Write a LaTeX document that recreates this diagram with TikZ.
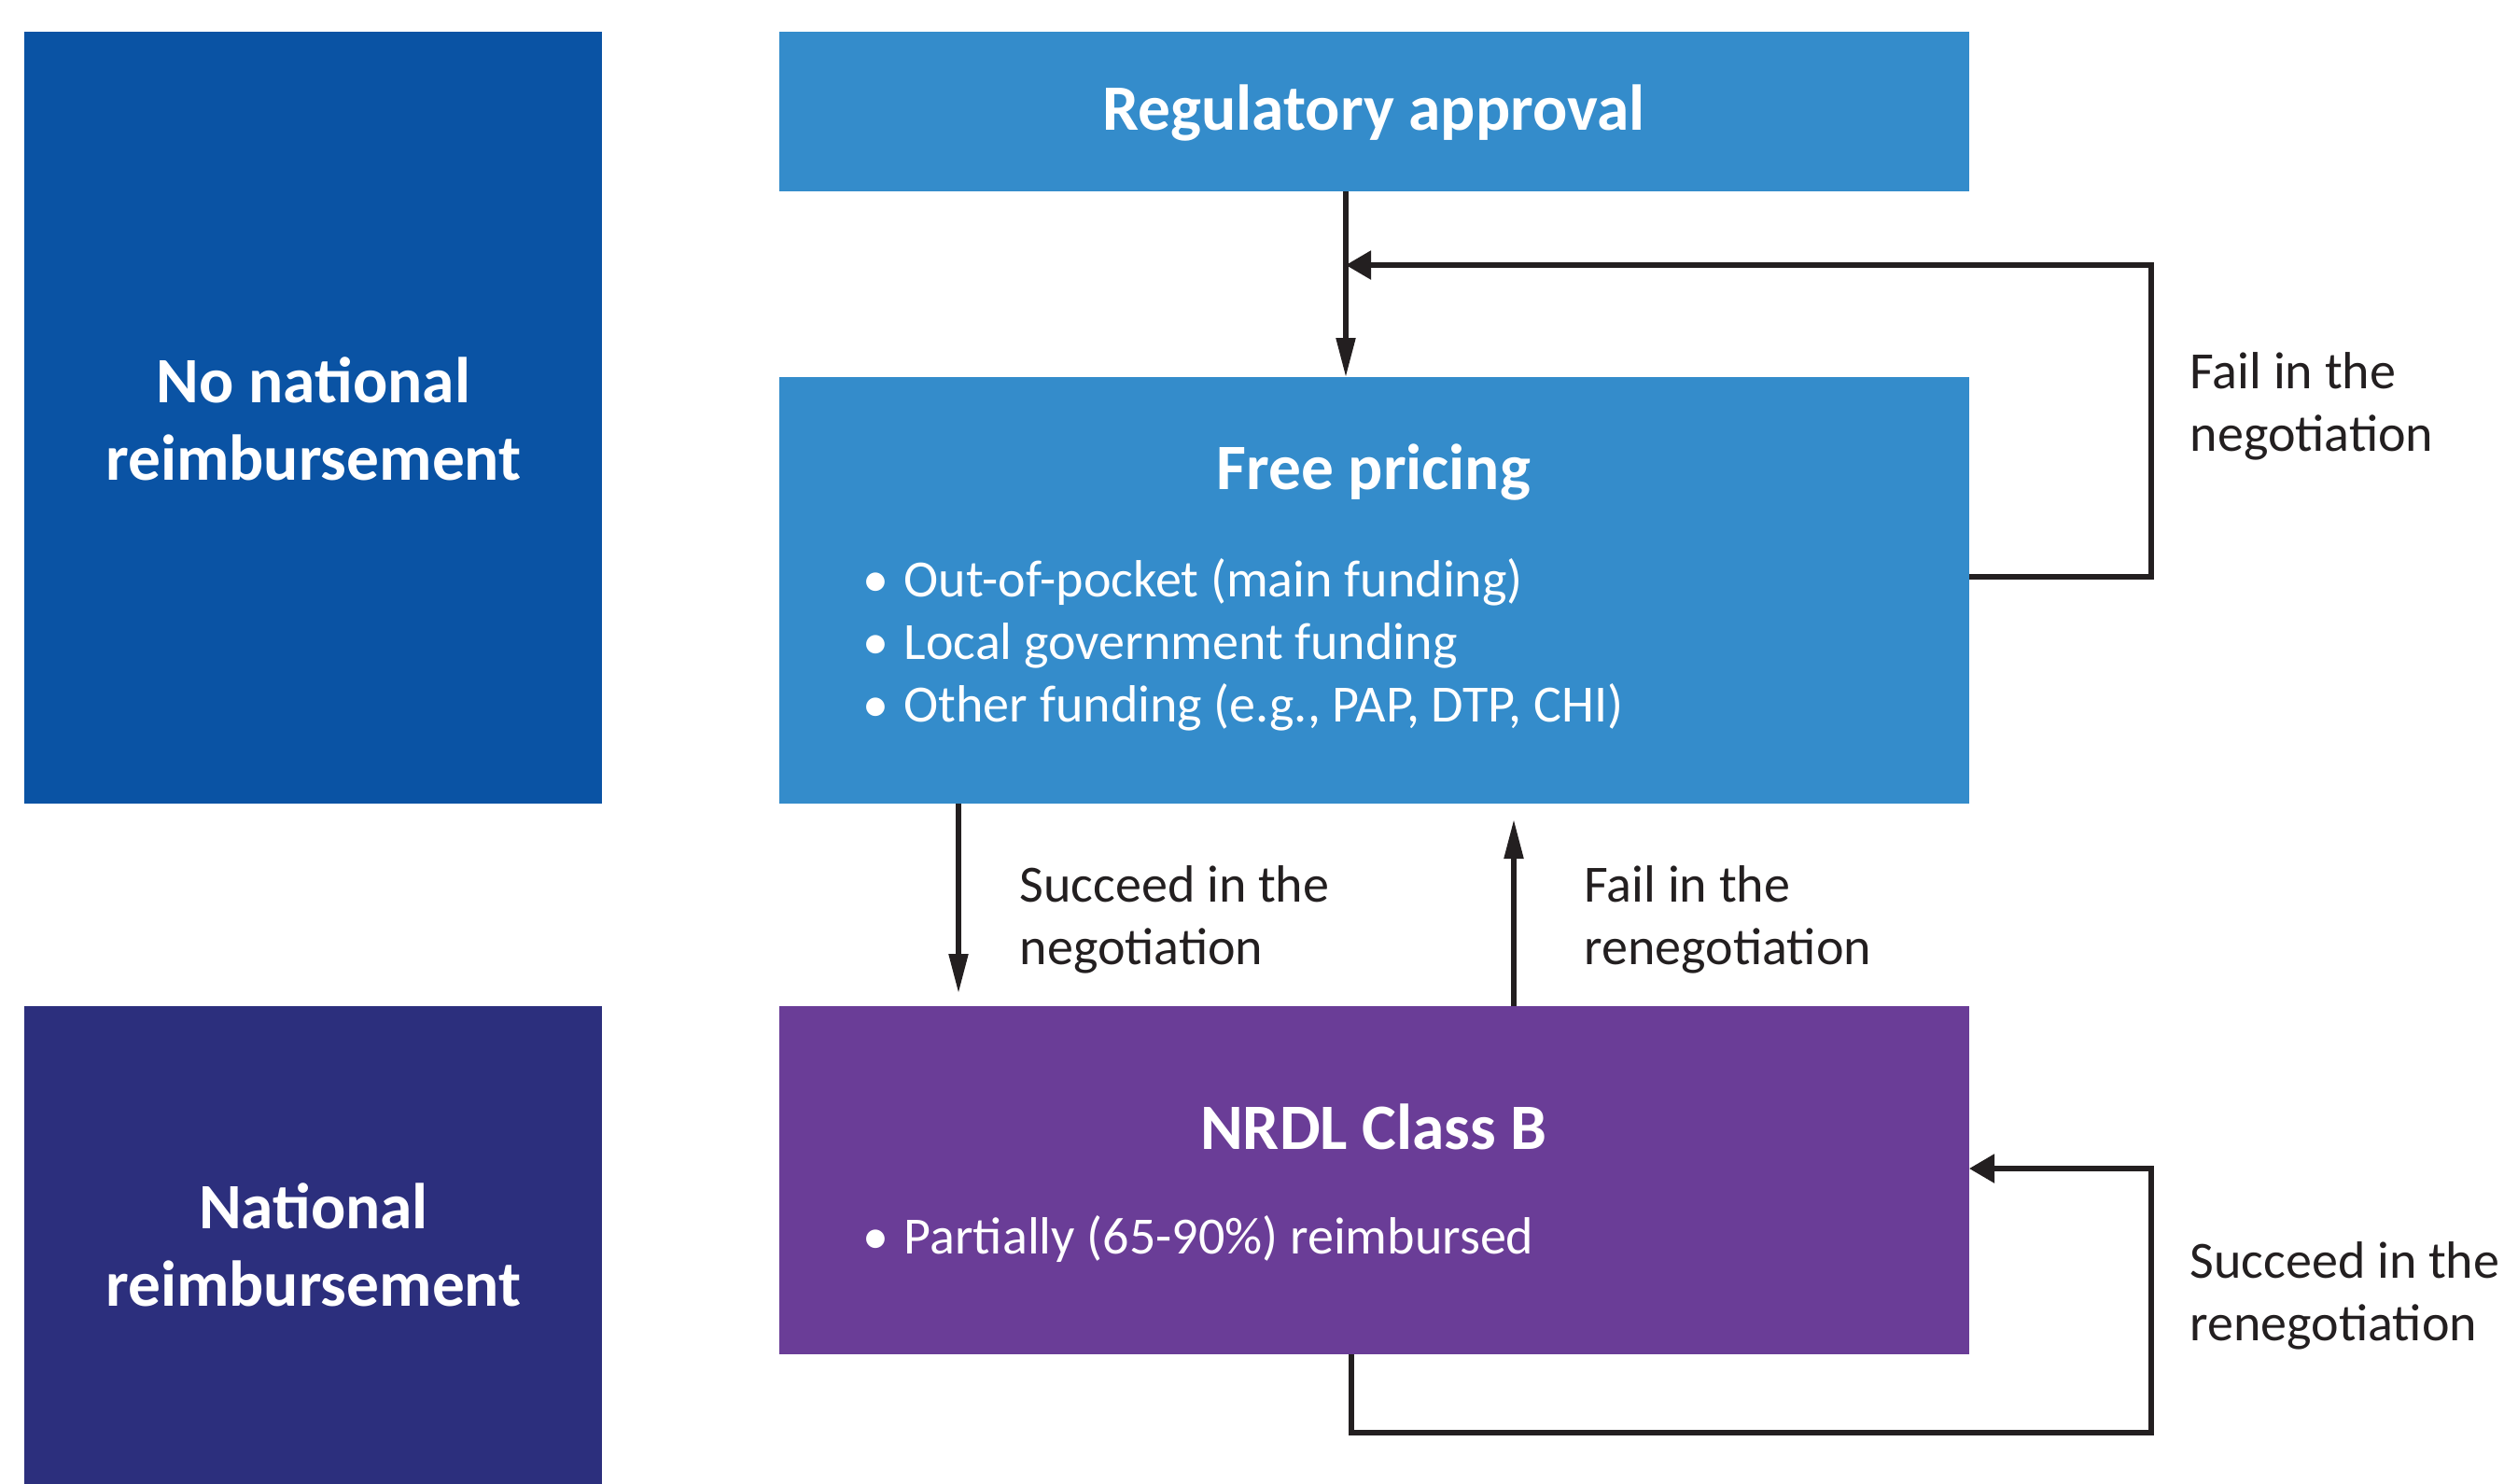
\documentclass[tikz,border=0pt]{standalone}
\usepackage{fontspec}
\setmainfont{Carlito}
\usetikzlibrary{arrows.meta}
\definecolor{deepblue}{HTML}{0A53A4}
\definecolor{midblue}{HTML}{348CCB}
\definecolor{plum}{HTML}{6A3D97}
\definecolor{navy}{HTML}{2C2F7D}
\definecolor{ink}{HTML}{231F20}
\tikzset{
  panel/.style={draw=none, inner sep=0pt, outer sep=0pt},
  title/.style={text=white, font=\fontsize{19.75}{23.6}\selectfont\bfseries, align=center},
  body/.style={text=white, font=\fontsize{15.95}{19.1}\selectfont, align=left},
  label/.style={text=ink, font=\fontsize{15.95}{19.1}\selectfont, align=left, anchor=west, inner sep=0pt},
  flow/.style={draw=ink, line width=1.5pt, -{Triangle[length=0.42cm,width=0.2cm]}},
  loop/.style={draw=ink, line width=1.5pt, -{Triangle[length=0.27cm,width=0.3cm]}},
}
\newcommand{\bul}[1]{\makebox[0.44cm][l]{•}#1}
\begin{document}
\begin{tikzpicture}
\useasboundingbox (0,0) rectangle (26.83,-15.90);

% column of category panels
\node[panel, fill=deepblue, minimum width=6.19cm, minimum height=8.27cm] (nonat) at (3.355,-4.475) {};
\node[panel, fill=navy, minimum width=6.19cm, minimum height=5.12cm] (nat) at (3.355,-13.34) {};
\node[title] (nonattxt) at (3.36,-4.49) {No national\\reimbursement};
\node[title] (nattxt) at (3.36,-13.34) {National\\reimbursement};

% process boxes
\node[panel, fill=midblue, minimum width=12.75cm, minimum height=1.71cm] (reg) at (14.725,-1.195) {};
\node[panel, fill=midblue, minimum width=12.75cm, minimum height=4.57cm] (free) at (14.725,-6.325) {};
\node[panel, fill=plum, minimum width=12.75cm, minimum height=3.73cm] (nrdl) at (14.725,-12.645) {};

\node[title] (regtxt) at (14.72,-1.21) {Regulatory approval};
\node[title] (freetxt) at (14.72,-5.06) {Free pricing};
\node[body, anchor=west, inner sep=0pt] (freelist) at (9.24,-6.91)
  {\bul{Out-of-pocket (main funding)}\\\bul{Local government funding}\\\bul{Other funding (e.g., PAP, DTP, CHI)}};
\node[title] (nrdltxt) at (14.72,-12.07) {NRDL Class B};
\node[body, anchor=west, inner sep=0pt] (nrdllist) at (9.24,-13.27) {\bul{Partially (65-90\%) reimbursed}};

% routing coordinates
\coordinate (cA) at (14.42,0);
\coordinate (cS) at (10.27,0);
\coordinate (cF) at (16.22,0);
\coordinate (cB) at (14.48,0);
\coordinate (rt) at (23.05,0);
\coordinate (yTop) at (0,-2.84);
\coordinate (yOut) at (0,-6.18);
\coordinate (yIn) at (0,-12.52);
\coordinate (yBot) at (0,-15.35);

% connectors
\draw[flow] (reg.south -| cA) -- (free.north -| cA);
\draw[loop] (free.east |- yOut) -- (rt |- yOut) -- (rt |- yTop) -- (cA |- yTop);
\draw[flow] (free.south -| cS) -- ([yshift=0.14cm]nrdl.north -| cS);
\draw[flow] (nrdl.north -| cF) -- ([yshift=-0.17cm]free.south -| cF);
\draw[loop] (nrdl.south -| cB) -- (cB |- yBot) -- (rt |- yBot) -- (rt |- yIn) -- (nrdl.east |- yIn);

% connector labels
\node[label] (l1) at (23.46,-4.35) {Fail in the\\negotiation};
\node[label] (l2) at (10.92,-9.85) {Succeed in the\\negotiation};
\node[label] (l3) at (16.97,-9.85) {Fail in the\\renegotiation};
\node[label] (l4) at (23.46,-13.88) {Succeed in the\\renegotiation};
\end{tikzpicture}
\end{document}
